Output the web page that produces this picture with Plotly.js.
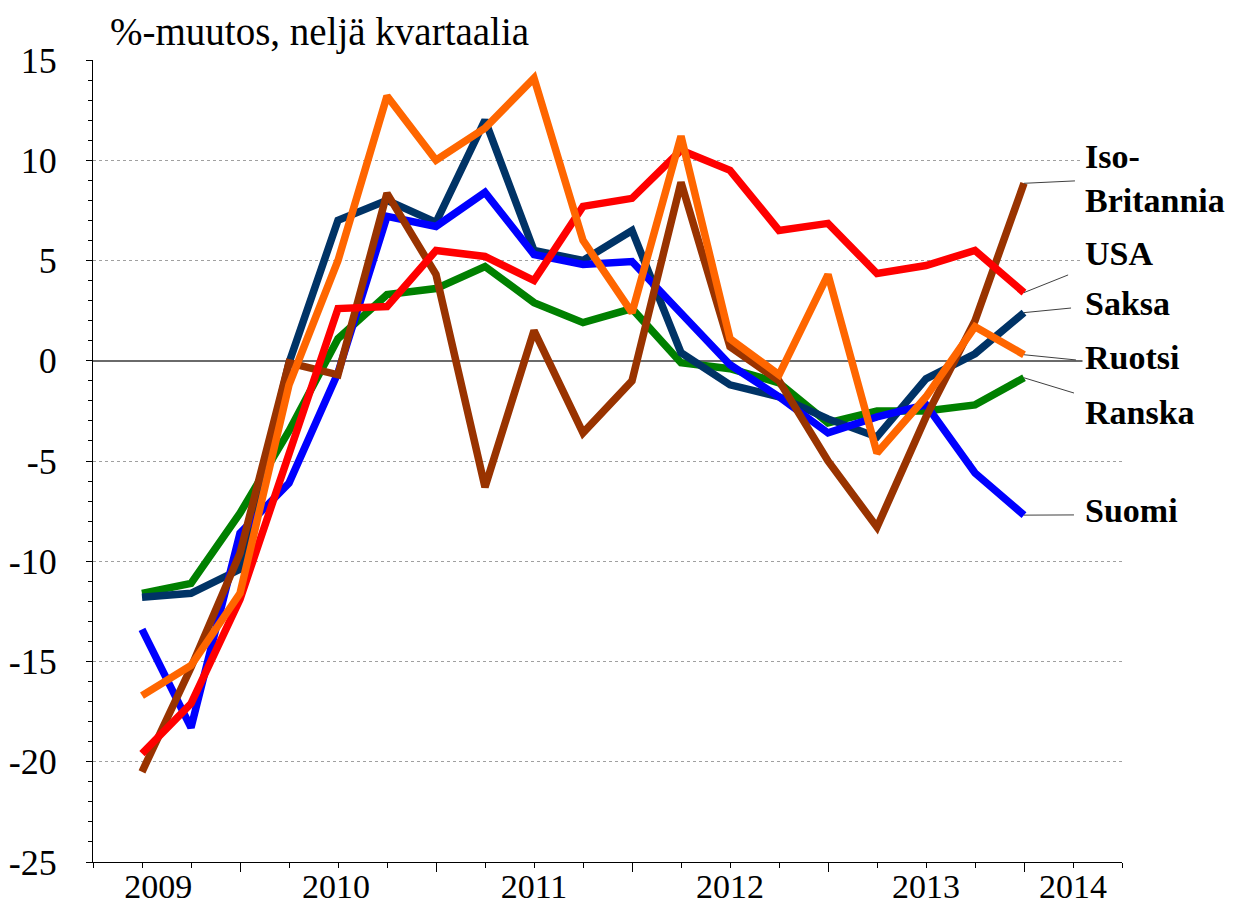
<!DOCTYPE html>
<html>
<head>
<meta charset="utf-8">
<script src="https://cdn.plot.ly/plotly-3.0.1.min.js"></script>
<style>html,body{margin:0;padding:0;background:#fff;}#chart{width:1234px;height:911px;}</style>
</head>
<body>
<div id="chart"></div>
<script>
// Quarterly observations, 2009 Q1 .. 2013 Q3
const quarters = ["2009Q1","2009Q2","2009Q3","2009Q4","2010Q1","2010Q2","2010Q3","2010Q4",
  "2011Q1","2011Q2","2011Q3","2011Q4","2012Q1","2012Q2","2012Q3","2012Q4","2013Q1","2013Q2","2013Q3"];

const ranska = [-11.6,-11.1,-7.6,-3.5,1.1,3.3,3.6,4.7,2.9,1.9,2.6,-0.1,-0.4,-1.1,-3.1,-2.5,-2.5,-2.2,-0.85];
const saksa  = [-11.8,-11.6,-10.4,-0.1,7.0,8.0,6.9,12.0,5.5,5.0,6.5,0.4,-1.2,-1.8,-2.9,-3.8,-0.9,0.35,2.4];
const suomi  = [-13.4,-18.3,-8.6,-6.1,-0.6,7.2,6.7,8.4,5.3,4.8,4.95,2.4,-0.2,-1.8,-3.6,-2.8,-2.2,-5.6,-7.7];
const isoBritannia = [-20.5,-15.3,-9.6,-0.1,-0.7,8.35,4.3,-6.3,1.5,-3.6,-1.0,8.9,0.7,-1.0,-5.0,-8.3,-2.8,2.0,8.85];
const usa    = [-19.6,-17.1,-11.9,-4.7,2.6,2.7,5.5,5.2,4.0,7.7,8.1,10.5,9.5,6.5,6.85,4.35,4.75,5.5,3.4];
const ruotsi = [-16.7,-15.2,-11.6,-1.2,5.0,13.2,10.0,11.6,14.1,6.0,2.4,11.2,1.1,-0.7,4.3,-4.6,-1.8,1.7,0.3];

// Year tick labels and where they sit on the quarter index axis
const yearLabels = ["2009","2010","2011","2012","2013","2014"];
const yearPos    = [0.33, 3.96, 8, 12, 16, 19];
const longTickPos = [2, 6, 10, 14, 18];

// Value axis tick labels (plain hyphen minus as in the original)
const yTickVals = [-25,-20,-15,-10,-5,0,5,10,15];
const yTickText = ["-25","-20","-15","-10","-5","0","5","10","15"];

const titleText = "%-muutos, neljä kvartaalia";

const idx = quarters.map((q, i) => i);
const FONT = '"Liberation Serif", "Times New Roman", serif';

const series = [
  {name: "Ranska", y: ranska, color: "#008000"},
  {name: "Saksa", y: saksa, color: "#003366"},
  {name: "Suomi", y: suomi, color: "#0000FF"},
  {name: "Iso-Britannia", y: isoBritannia, color: "#993300"},
  {name: "USA", y: usa, color: "#FF0000"},
  {name: "Ruotsi", y: ruotsi, color: "#FF6600"}
];

const traces = series.map(s => ({
  x: idx, y: s.y, name: s.name, type: "scatter", mode: "lines",
  line: {color: s.color, width: 7.5}, hoverinfo: "x+y+name"
}));
// helper (invisible) traces so the overlaid tick axes are drawn
traces.push({x: longTickPos, y: longTickPos.map(() => null), xaxis: "x2", yaxis: "y",
  mode: "markers", marker: {opacity: 0}, hoverinfo: "skip", showlegend: false});
traces.push({x: yearPos, y: yearPos.map(() => null), xaxis: "x3", yaxis: "y",
  mode: "markers", marker: {opacity: 0}, hoverinfo: "skip", showlegend: false});

// Label placement (text position, leader end)
const labelSpec = [
  {name: "Iso-Britannia", text: "Iso-<br>Britannia", ty: 9.1, ex: 19.04, ey: 8.97},
  {name: "USA", text: "USA", ty: 5.37, ex: 18.9, ey: 4.28},
  {name: "Saksa", text: "Saksa", ty: 2.88, ex: 18.96, ey: 2.63},
  {name: "Ruotsi", text: "Ruotsi", ty: 0.14, ex: 19.06, ey: 0.04},
  {name: "Ranska", text: "Ranska", ty: -2.56, ex: 19.02, ey: -1.61},
  {name: "Suomi", text: "Suomi", ty: -7.49, ex: 19.02, ey: -7.69}
];
const lastIdx = idx[idx.length - 1];
const annotations = labelSpec.map(l => ({
  x: 19.18, y: l.ty, xref: "x", yref: "y", xanchor: "left", yanchor: "middle",
  text: "<b>" + l.text + "</b>", showarrow: false, align: "left",
  bgcolor: "#ffffff", borderpad: 2,
  font: {family: FONT, size: 34, color: "#000"}
}));
const shapes = labelSpec.map(l => {
  const s = series.find(v => v.name === l.name);
  return {type: "line", xref: "x", yref: "y", x0: lastIdx, y0: s.y[s.y.length - 1], x1: l.ex, y1: l.ey,
    line: {color: "#404040", width: 1}, layer: "above"};
});

const layout = {
  width: 1234, height: 911,
  margin: {l: 93, r: 112, t: 60, b: 49},
  paper_bgcolor: "#fff", plot_bgcolor: "#fff",
  showlegend: false,
  font: {family: FONT, color: "#000"},
  title: {text: titleText, x: 110/1234, xanchor: "left", xref: "container", y: 1 - 31/911, yref: "container", yanchor: "middle",
    font: {family: FONT, size: 39, color: "#000"}},
  xaxis: {
    range: [-1, 20], showgrid: false, zeroline: false,
    showline: true, linecolor: "#000", linewidth: 1.3,
    tickmode: "linear", tick0: 0, dtick: 1, ticks: "outside", ticklen: 5, tickcolor: "#000", tickwidth: 1,
    showticklabels: false, fixedrange: true
  },
  xaxis2: {
    overlaying: "x", anchor: "y", side: "bottom", range: [-1, 20],
    showgrid: false, zeroline: false, showline: false,
    tickmode: "array", tickvals: longTickPos, ticks: "outside", ticklen: 9, tickcolor: "#000", tickwidth: 1,
    showticklabels: false, fixedrange: true
  },
  xaxis3: {
    overlaying: "x", anchor: "y", side: "bottom", range: [-1, 20],
    showgrid: false, zeroline: false, showline: false,
    tickmode: "array", tickvals: yearPos, ticktext: yearLabels, ticks: "",
    ticklabelstandoff: 1,
    tickfont: {family: FONT, size: 34, color: "#000"}, fixedrange: true
  },
  yaxis: {
    range: [-25, 15], tickmode: "array", tickvals: yTickVals, ticktext: yTickText,
    showgrid: true, gridcolor: "#a0a0a0", griddash: "dot", gridwidth: 1,
    zeroline: true, zerolinecolor: "#6a6a6a", zerolinewidth: 1.5,
    showline: true, linecolor: "#000", linewidth: 1.3,
    ticks: "outside", ticklen: 6, tickcolor: "#000",
    minor: {tickmode: "linear", tick0: 0, dtick: 1, ticks: "outside", ticklen: 4, tickcolor: "#000", showgrid: false},
    ticklabelstandoff: 22,
    tickfont: {family: FONT, size: 36, color: "#000"}, fixedrange: true
  },
  annotations: annotations,
  shapes: shapes
};

Plotly.newPlot("chart", traces, layout, {displayModeBar: false});
</script>
</body>
</html>
